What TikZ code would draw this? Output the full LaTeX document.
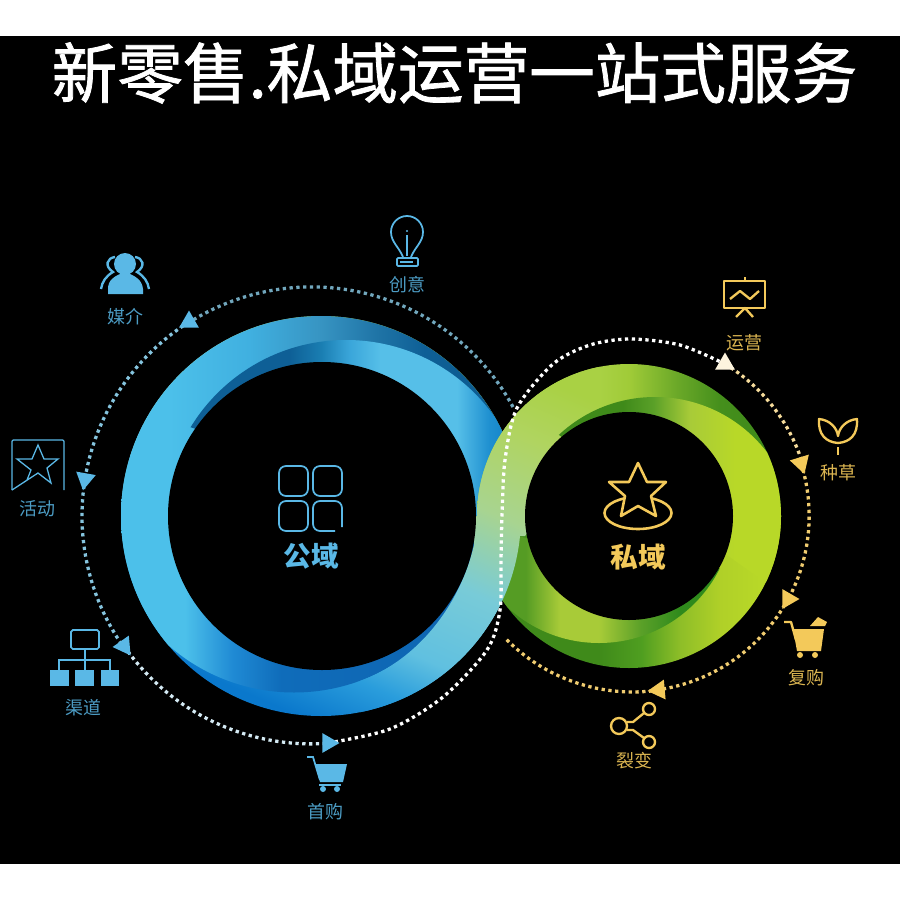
\documentclass[tikz,border=0pt]{standalone}
\usepackage{fontspec}
\usepackage{tikz}
\usetikzlibrary{shapes.geometric}
\newfontfamily\cjkfont{Noto Sans CJK SC}
\newfontfamily\titlefont[FakeBold=1.2]{Noto Sans CJK SC}

\definecolor{skyblue}{HTML}{5AB8E6}
\definecolor{goldline}{HTML}{F3C95A}
\definecolor{bluedot}{HTML}{85C4DE}
\definecolor{golddot}{HTML}{F0CC70}

% blue ring
\definecolor{ba}{HTML}{4CC0EA}\definecolor{bb}{HTML}{40B0E0}\definecolor{bc}{HTML}{3794C2}
\definecolor{bd}{HTML}{1F74A6}\definecolor{be}{HTML}{0E5F96}\definecolor{bf}{HTML}{0C5A8E}
\definecolor{bg}{HTML}{1F8AD4}\definecolor{bh}{HTML}{0F6CBA}\definecolor{bi}{HTML}{0E64B0}
\definecolor{bj}{HTML}{1A7EB2}\definecolor{bk}{HTML}{3AA6DA}\definecolor{bl}{HTML}{56BFE8}
\definecolor{bm}{HTML}{1F90D0}\definecolor{bn}{HTML}{1080C8}
% green ring
\definecolor{ga}{HTML}{A9D144}\definecolor{gb}{HTML}{A0CB38}\definecolor{gc}{HTML}{6AA828}
\definecolor{gd}{HTML}{458F1C}\definecolor{ge}{HTML}{3F8A1A}\definecolor{gf}{HTML}{4F9E20}
\definecolor{gg}{HTML}{8EBE28}\definecolor{gh}{HTML}{B0D028}\definecolor{gi}{HTML}{B8D828}
\definecolor{gj}{HTML}{559C24}\definecolor{gk}{HTML}{A8CB38}\definecolor{gl}{HTML}{2F8A1C}
\definecolor{gm}{HTML}{5AA028}
% ribbon
\definecolor{ra}{HTML}{0A78CC}\definecolor{rb}{HTML}{2A9DDC}\definecolor{rc}{HTML}{60C0E0}
\definecolor{rd}{HTML}{78CBD8}\definecolor{re}{HTML}{A8D490}\definecolor{rf}{HTML}{B0D460}

\pgfdeclarehorizontalshading{bluetop}{100bp}{color(0bp)=(ba); color(31bp)=(ba); color(41bp)=(bb); color(50bp)=(bc); color(57bp)=(bd); color(63bp)=(be); color(75bp)=(bf); color(100bp)=(bf)}
\pgfdeclarehorizontalshading{bluelow}{100bp}{color(0bp)=(ba); color(33bp)=(ba); color(39bp)=(bg); color(45bp)=(bh); color(70bp)=(bi); color(100bp)=(bi)}
\pgfdeclarehorizontalshading{blueband}{100bp}{color(0bp)=(be); color(46bp)=(be); color(50bp)=(bj); color(53.6bp)=(bk); color(57.4bp)=(bl); color(67bp)=(bl); color(71bp)=(bm); color(74bp)=(bn); color(100bp)=(bn)}
\pgfdeclarehorizontalshading{greentop}{100bp}{color(0bp)=(ga); color(45bp)=(ga); color(50bp)=(gb); color(58bp)=(gc); color(65bp)=(gd); color(72bp)=(ge); color(100bp)=(ge)}
\pgfdeclarehorizontalshading{greenlow}{100bp}{color(0bp)=(ge); color(45bp)=(ge); color(52bp)=(gf); color(58.4bp)=(gg); color(65bp)=(gh); color(71.5bp)=(gi); color(100bp)=(gi)}
\pgfdeclarehorizontalshading{greeninner}{100bp}{color(0bp)=(gj); color(33bp)=(gj); color(38.6bp)=(gk); color(45bp)=(gk); color(52bp)=(gm); color(58.4bp)=(gl); color(100bp)=(gl)}
\pgfdeclarehorizontalshading{greenband}{100bp}{color(0bp)=(ge); color(49bp)=(ge); color(54bp)=(gm); color(60bp)=(gk); color(67.4bp)=(gi); color(100bp)=(gi)}
\pgfdeclarehorizontalshading{ribbon}{100bp}{color(0bp)=(ra); color(36bp)=(ra); color(39.5bp)=(rb); color(42.4bp)=(rc); color(47.4bp)=(rd); color(52.5bp)=(re); color(57.7bp)=(rf); color(61.5bp)=(ga); color(100bp)=(ga)}

\begin{document}
\begin{tikzpicture}[x=0.03cm,y=-0.03cm,
	dotline/.style={line width=2.8pt,dash pattern=on 2.8pt off 3pt},
	tri/.style={regular polygon,regular polygon sides=3,inner sep=0pt,minimum size=19.6pt},
	thinline/.style={line width=1.5pt},
	goldicon/.style={line width=2pt,line join=round}]
	\useasboundingbox (0,0) rectangle (900,900);
	\fill[white] (0,0) rectangle (900,900);
	\fill[black] (0,36) rectangle (900,864);

	\node[white,font=\titlefont\fontsize{56}{60}\selectfont] (title) at (454.5,73) {新零售.私域运营一站式服务};

	\coordinate (bluec) at (321,516);
	\coordinate (blueh) at (322,516);
	\coordinate (greenc) at (629,516);

	% blue ring
	\begin{scope}
		\clip (bluec) circle (200);
		\shade[shading=ribbon,shading angle=66.4] (0,116) rectangle (800,916);
		\shade[shading=bluetop] (121,100) rectangle (521,516);
		\begin{scope}
			\clip (294,502) circle (190.5);
			\shade[shading=bluelow] (121,516) rectangle (521,900);
		\end{scope}
		\begin{scope}
			\clip (180,424) -- (505,525) -- (600,300) -- (180,300) -- cycle;
			\clip (346,522) circle (182);
			\shade[shading=blueband] (121,100) rectangle (521,900);
		\end{scope}
	\end{scope}

	% green ring
	\begin{scope}
		\clip (greenc) circle (152);
		\shade[shading=greentop] (477,100) rectangle (781,516);
		\shade[shading=greenlow] (477,516) rectangle (781,900);
		\begin{scope}
			\clip (470,350) -- (600,350) -- (600,516) -- (540,516) -- (525,536) -- (470,536) -- cycle;
			\shade[shading=ribbon,shading angle=66.4] (0,116) rectangle (800,916);
		\end{scope}
		\begin{scope}
			\clip (515,536) -- (730,570) -- (730,700) -- (480,700) -- (480,536) -- cycle;
			\clip (599,508) circle (135);
			\shade[shading=greeninner] (477,100) rectangle (781,900);
		\end{scope}
		\begin{scope}
			\clip (552,430) -- (790,600) -- (800,300) -- (552,300) -- cycle;
			\clip (655,538) circle (141);
			\shade[shading=greenband] (477,100) rectangle (781,900);
		\end{scope}
	\end{scope}
	\fill[black] (greenc) circle (104);

	% lower part of the ribbon lies over the green ring
	\begin{scope}
		\clip (bluec) circle (200);
		\clip (474,545) .. controls (460,605) and (418,660) .. (360,681) -- (360,730) -- (530,730) -- (530,516) -- (474,516) -- cycle;
		\shade[shading=ribbon,shading angle=66.4] (0,116) rectangle (800,916);
	\end{scope}
	\fill[black] (blueh) circle (154);

	% dotted rings
	\coordinate (bluestart) at (513,407);
	\coordinate (tp1) at (189,322);
	\coordinate (tp2) at (85,479);
	\coordinate (tp3) at (124,646);
	\coordinate (tp4) at (328,743);
	\coordinate (tp5) at (725,364);
	\coordinate (tp6) at (801,463);
	\coordinate (tp7) at (788,599);
	\coordinate (tp8) at (659,690);
	\draw[dotline,bluedot!85!black] (bluestart) arc[start angle=-28.4,end angle=-122.2,radius=229];
	\draw[dotline,bluedot] (tp1) arc[start angle=-122.2,end angle=-170.7,radius=229];
	\draw[dotline,bluedot] (tp2) arc[start angle=-170.7,end angle=-214.8,radius=228];
	\draw[dotline,white!65!bluedot] (tp3) arc[start angle=-214.8,end angle=-274.3,radius=228];
	\draw[dotline,white] plot[smooth] coordinates {(tp4) (390,729) (443,697) (487,650) (500,610) (501,560) (502,516) (505,460) (517,408) (553,364) (590,345) (630,339) (680,345) (tp5)};
	\draw[dotline,white!30!golddot] (tp5) arc[start angle=-58.8,end angle=-17.5,radius=177];
	\draw[dotline,golddot] (tp6) arc[start angle=-17.5,end angle=28.3,radius=176];
	\draw[dotline,golddot] (tp7) arc[start angle=28.3,end angle=81.5,radius=176];
	\draw[dotline,golddot] (tp8) arc[start angle=81.5,end angle=136,radius=178];

	% arrow heads on the dotted rings
	\begin{scope}[every node/.style={tri,fill=skyblue}]
		\node[rotate=0] (tr1) at (tp1) {};
		\node[rotate=170] (tr2) at (tp2) {};
		\node[rotate=95] (tr3) at (tp3) {};
		\node[rotate=-90] (tr4) at (tp4) {};
	\end{scope}
	\begin{scope}[every node/.style={tri,fill=goldline}]
		\node[rotate=0,fill=white!80!goldline] (tr5) at (tp5) {};
		\node[rotate=-163] (tr6) at (tp6) {};
		\node[rotate=-90] (tr7) at (tp7) {};
		\node[rotate=95] (tr8) at (tp8) {};
	\end{scope}

	% blue icons
	\begin{scope}[skyblue,thinline]
		\fill (125,264) circle (11);
		\fill (108,294) -- (108,289) .. controls (108,280) and (114,276) .. (125,272) .. controls (136,276) and (142,280) .. (143,289) -- (143,294) -- cycle;
		\draw[line width=2pt] (115,257) .. controls (107,258) and (104,266) .. (113,272) .. controls (106,276) and (102,282) .. (101,289);
		\draw[line width=2pt] (135,257) .. controls (143,258) and (146,266) .. (137,272) .. controls (144,276) and (148,282) .. (149,289);

		\draw[rounded corners=1pt,line width=1.1pt] (12,490) -- (12,440) -- (64,440) -- (64,490);
		\draw[line width=1.1pt] (12,490) -- (38,473) -- (51,483) -- (47,468) -- (58,459) -- (44,459) -- (38,445) -- (32,459) -- (17,459) -- (31,470) -- (27,480);

		\draw[rounded corners=1.5pt] (71,630) rectangle (99,649);
		\draw (85,649) -- (85,670);
		\draw (59,670) -- (59,660) -- (110,660) -- (110,670);
		\fill (50,670) rectangle (69,686);
		\fill (75,670) rectangle (94,686);
		\fill (101,670) rectangle (119,686);

		\draw (307,757) -- (313,757) -- (320,780);
		\fill (315,764) -- (347,764) -- (343,782) -- (320,782) -- cycle;
		\draw (319,785) -- (341,785);
		\fill (323,789) circle (3);
		\fill (337,789) circle (3);

		\draw[rounded corners=6pt] (279,466) rectangle (308,496);
		\draw[rounded corners=6pt] (313,466) rectangle (342,496);
		\draw[rounded corners=6pt] (279,501) rectangle (308,531);
		\draw[rounded corners=6pt] (342,527) -- (342,501) -- (313,501) -- (313,531) -- (335,531);

		\draw (403,257) .. controls (399,247) and (391,242) .. (391,232) arc[start angle=180,end angle=360,radius=16] .. controls (423,242) and (415,247) .. (411,257);
		\draw (407,235) -- (407,256);
		\fill (407,231) circle (1.2);
		\draw[rounded corners=1pt] (397,258) rectangle (418,266);
		\draw (400,262) -- (413,262);
	\end{scope}

	% gold icons
	\begin{scope}[goldline,goldicon]
		\draw (724,281) rectangle (765,308);
		\draw (745,277) -- (745,281);
		\draw (736,317) -- (745,308) -- (753,317);
		\draw (730,299) -- (740,291) -- (750,299) -- (759,291);

		\draw (819,419) .. controls (818,435) and (826,442) .. (838,443) .. controls (850,442) and (858,435) .. (857,419) .. controls (846,420) and (839,428) .. (838,436) .. controls (837,428) and (830,420) .. (819,419) -- cycle;
		\draw (838,447) -- (838,455);

		\draw (784,622) -- (791,622) -- (796,640);
		\fill (793,629) -- (824,629) -- (821,651) -- (797,651) -- cycle;
		\fill (800,655) circle (3);
		\fill (815,655) circle (3);
		\fill (810,626) -- (818,617) -- (827,622) -- (825,626) -- cycle;

		\draw (619,726) circle (8);
		\draw (649,709) circle (6);
		\draw (649,742) circle (6);
		\draw (627,722) -- (633,722) -- (644,713);
		\draw (627,730) -- (633,730) -- (644,738);

		\draw[line width=2.2pt] (638,513) ellipse (33.5 and 16);
		\draw[line width=2.2pt,fill=black] (638,463) -- (647,482) -- (666,482) -- (651,496) -- (656,516) -- (638,506) -- (621,516) -- (625,496) -- (609,482) -- (629,482) -- cycle;
	\end{scope}

	% labels
	\begin{scope}[every node/.style={text=skyblue!85!black,font=\cjkfont\fontsize{15.3}{18}\selectfont}]
		\node (media) at (125,317) {媒介};
		\node (idea) at (407,285) {创意};
		\node (event) at (37,509) {活动};
		\node (channel) at (83,708) {渠道};
		\node (firstbuy) at (325,812) {首购};
	\end{scope}
	\begin{scope}[every node/.style={text=goldline!90!black,font=\cjkfont\fontsize{15.3}{18}\selectfont}]
		\node (operate) at (744,343) {运营};
		\node (seed) at (838,473) {种草};
		\node (rebuy) at (806,678) {复购};
		\node (fission) at (634,761) {裂变};
	\end{scope}
	\node[text=skyblue,font=\cjkfont\bfseries\fontsize{23.5}{26}\selectfont] (public) at (311,556) {公域};
	\node[text=goldline,font=\cjkfont\bfseries\fontsize{23.5}{26}\selectfont] (private) at (638,557) {私域};
\end{tikzpicture}
\end{document}
